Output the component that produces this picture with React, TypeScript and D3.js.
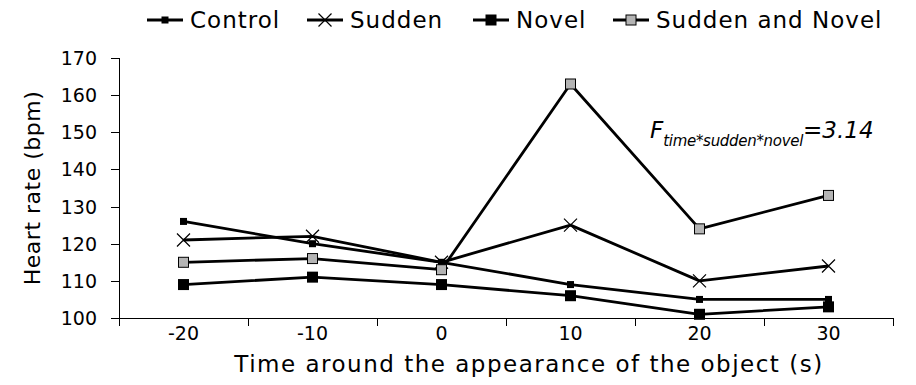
import React, { useRef, useEffect } from "react";
import * as d3 from "d3";

const TIMES = ["-20", "-10", "0", "10", "20", "30"];
const Y_TICKS = [100, 110, 120, 130, 140, 150, 160, 170];

const CONTROL = [126, 120, 115, 109, 105, 105];
const SUDDEN = [121, 122, 115, 125, 110, 114];
const NOVEL = [109, 111, 109, 106, 101, 103];
const SUDDEN_NOVEL = [115, 116, 113, 163, 124, 133];

const SERIES_NAMES = ["Control", "Sudden", "Novel", "Sudden and Novel"];

const FONT = "'DejaVu Sans', Verdana, sans-serif";

function App() {
  const svgRef = useRef<SVGSVGElement>(null);

  useEffect(() => {
    const width = 916;
    const height = 385;
    const margin = { top: 58, right: 23, bottom: 67, left: 119 };

    const svg = d3.select(svgRef.current).attr("width", width).attr("height", height);
    svg.selectAll("*").remove();

    const x = d3
      .scaleBand()
      .domain(TIMES)
      .range([margin.left, width - margin.right])
      .padding(0);

    const y = d3
      .scaleLinear()
      .domain([100, 170])
      .range([height - margin.bottom, margin.top]);

    const y0 = y(100);
    const cx = (t) => x(t) + x.bandwidth() / 2;

    // axes
    const axes = svg.append("g").attr("stroke", "#000").attr("stroke-width", 1);
    axes
      .append("line")
      .attr("x1", margin.left + 0.5)
      .attr("x2", margin.left + 0.5)
      .attr("y1", y(170))
      .attr("y2", y0);
    axes
      .append("line")
      .attr("x1", margin.left)
      .attr("x2", width - margin.right)
      .attr("y1", y0 + 0.5)
      .attr("y2", y0 + 0.5);

    Y_TICKS.forEach((v) => {
      axes
        .append("line")
        .attr("x1", margin.left - 8)
        .attr("x2", margin.left)
        .attr("y1", Math.round(y(v)) + 0.5)
        .attr("y2", Math.round(y(v)) + 0.5);
    });

    // x ticks sit on the band edges
    const edges = TIMES.map((t) => x(t)).concat([x.range()[1]]);
    edges.forEach((e) => {
      axes
        .append("line")
        .attr("x1", Math.round(e) + 0.5)
        .attr("x2", Math.round(e) + 0.5)
        .attr("y1", y0)
        .attr("y2", y0 + 8);
    });

    // tick labels
    svg
      .append("g")
      .selectAll("text")
      .data(Y_TICKS)
      .enter()
      .append("text")
      .attr("x", margin.left - 22)
      .attr("y", (d) => y(d) + 7)
      .attr("text-anchor", "end")
      .style("font-family", FONT)
      .style("font-size", "19px")
      .text((d) => d);

    svg
      .append("g")
      .selectAll("text")
      .data(TIMES)
      .enter()
      .append("text")
      .attr("x", (d) => cx(d))
      .attr("y", y0 + 22)
      .attr("text-anchor", "middle")
      .style("font-family", FONT)
      .style("font-size", "19px")
      .text((d) => d);

    // axis titles
    svg
      .append("text")
      .attr("x", 529)
      .attr("y", 372)
      .attr("text-anchor", "middle")
      .style("font-family", FONT)
      .style("font-size", "23px")
      .style("letter-spacing", "1.5px")
      .text("Time around the appearance of the object (s)");

    svg
      .append("text")
      .attr("transform", `translate(40, ${(y(170) + y0) / 2}) rotate(-90)`)
      .attr("text-anchor", "middle")
      .style("font-family", FONT)
      .style("font-size", "22px")
      .style("letter-spacing", "0.5px")
      .text("Heart rate (bpm)");

    // series
    const seriesData = [CONTROL, SUDDEN, NOVEL, SUDDEN_NOVEL];
    const line = d3
      .line()
      .x((d, i) => cx(TIMES[i]))
      .y((d) => y(d));

    const drawMarker = (g, k, px, py) => {
      if (k === 0) {
        g.append("rect")
          .attr("x", px - 3.5)
          .attr("y", py - 3.5)
          .attr("width", 7)
          .attr("height", 7)
          .attr("fill", "#000");
      } else if (k === 1) {
        const s = 6.5;
        g.append("path")
          .attr("d", `M${px - s},${py - s}L${px + s},${py + s}M${px - s},${py + s}L${px + s},${py - s}`)
          .attr("stroke", "#000")
          .attr("stroke-width", 1.2)
          .attr("fill", "none");
      } else if (k === 2) {
        g.append("rect")
          .attr("x", px - 5.5)
          .attr("y", py - 5.5)
          .attr("width", 11)
          .attr("height", 11)
          .attr("fill", "#000");
      } else {
        g.append("rect")
          .attr("x", px - 5)
          .attr("y", py - 5)
          .attr("width", 10)
          .attr("height", 10)
          .attr("fill", "#b4b4b4")
          .attr("stroke", "#000")
          .attr("stroke-width", 1);
      }
    };

    seriesData.forEach((vals, k) => {
      const g = svg.append("g");
      g.append("path")
        .attr("d", line(vals))
        .attr("fill", "none")
        .attr("stroke", "#000")
        .attr("stroke-width", 2.8)
        .attr("stroke-linejoin", "round");
      vals.forEach((v, i) => drawMarker(g, k, cx(TIMES[i]), y(v)));
    });

    // legend
    const legendX = [147, 307, 473, 613];
    const legendY = 20;
    SERIES_NAMES.forEach((name, k) => {
      const g = svg.append("g");
      const lx = legendX[k];
      g.append("line")
        .attr("x1", lx)
        .attr("x2", lx + 36)
        .attr("y1", legendY)
        .attr("y2", legendY)
        .attr("stroke", "#000")
        .attr("stroke-width", 2.8);
      drawMarker(g, k, lx + 18, legendY);
      g.append("text")
        .attr("x", lx + 43)
        .attr("y", legendY + 8)
        .style("font-family", FONT)
        .style("font-size", "23px")
        .style("letter-spacing", "1px")
        .text(name);
    });

    // annotation
    const ann = svg
      .append("text")
      .attr("x", 650)
      .attr("y", 138)
      .style("font-family", FONT)
      .style("font-style", "italic")
      .style("font-size", "23px");
    ann.append("tspan").text("F");
    ann
      .append("tspan")
      .attr("dy", 8)
      .style("font-size", "15px")
      .style("letter-spacing", "-0.3px")
      .text("time*sudden*novel");
    ann.append("tspan").attr("dy", -8).text("=3.14");
  }, []);

  return <svg ref={svgRef} style={{ position: "absolute", left: 0, top: 0 }}></svg>;
}

export default App;
